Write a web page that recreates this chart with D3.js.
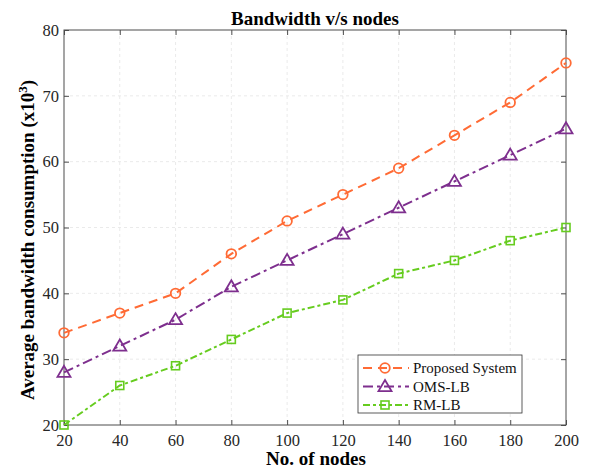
<!DOCTYPE html>
<html>
<head>
<meta charset="utf-8">
<script src="https://cdn.jsdelivr.net/npm/d3@7"></script>
<style>
  html, body { margin: 0; padding: 0; background: #fff; }
  svg { display: block; }
  text { font-family: "Liberation Serif", "Times New Roman", serif; }
</style>
</head>
<body>
<svg id="chart" width="589" height="470"></svg>
<script>
// Number of nodes on the x axis
const nodes = [20, 40, 60, 80, 100, 120, 140, 160, 180, 200];
// Average bandwidth consumption (x10^3) per approach
const proposedSystem = [34, 37, 40, 46, 51, 55, 59, 64, 69, 75];
const omsLb = [28, 32, 36, 41, 45, 49, 53, 57, 61, 65];
const rmLb = [20, 26, 29, 33, 37, 39, 43, 45, 48, 50];
const seriesNames = ["Proposed System", "OMS-LB", "RM-LB"];
const xTicks = [20, 40, 60, 80, 100, 120, 140, 160, 180, 200];
const yTicks = [20, 30, 40, 50, 60, 70, 80];

const series = [
  { name: seriesNames[0], values: proposedSystem, color: "#FF6B35", dash: "9,6", marker: "circle" },
  { name: seriesNames[1], values: omsLb, color: "#7E2F8E", dash: "10,4,3,4", marker: "triangle" },
  { name: seriesNames[2], values: rmLb, color: "#66CC1F", dash: "7,3,3,3", marker: "square" }
];

const svg = d3.select("#chart");
const m = { left: 64, right: 566, top: 30, bottom: 425 };

const x = d3.scaleLinear().domain([20, 200]).range([m.left, m.right]);
const y = d3.scaleLinear().domain([20, 80]).range([m.bottom, m.top]);

// grid
const grid = svg.append("g");
grid.selectAll("line.vx").data(xTicks.slice(1, -1)).join("line")
  .attr("x1", d => x(d)).attr("x2", d => x(d))
  .attr("y1", m.top).attr("y2", m.bottom)
  .attr("stroke", "#e4e4e4").attr("stroke-width", 0.8).attr("stroke-dasharray", "3,3");
grid.selectAll("line.hy").data(yTicks.slice(1, -1)).join("line")
  .attr("y1", d => y(d)).attr("y2", d => y(d))
  .attr("x1", m.left).attr("x2", m.right)
  .attr("stroke", "#e4e4e4").attr("stroke-width", 0.8).attr("stroke-dasharray", "3,3");

// axes with inward ticks
const axisColor = "#4d4d4d";
function styleAxis(g) {
  g.select(".domain").remove();
  g.selectAll(".tick line").attr("stroke", axisColor);
  g.selectAll(".tick text").attr("fill", "#262626")
    .style("font-family", "'Liberation Serif', serif").style("font-size", "16.5px");
}
svg.append("g").attr("transform", `translate(0,${m.bottom})`)
  .call(d3.axisBottom(x).tickValues(xTicks).tickSize(-5).tickPadding(9).tickFormat(d3.format("d")))
  .call(styleAxis);
svg.append("g").attr("transform", `translate(${m.left},0)`)
  .call(d3.axisLeft(y).tickValues(yTicks).tickSize(-5).tickPadding(5).tickFormat(d3.format("d")))
  .call(styleAxis);
svg.append("g").attr("transform", `translate(0,${m.top})`)
  .call(d3.axisTop(x).tickValues(xTicks).tickSize(-5).tickFormat(""))
  .call(styleAxis);
svg.append("g").attr("transform", `translate(${m.right},0)`)
  .call(d3.axisRight(y).tickValues(yTicks).tickSize(-5).tickFormat(""))
  .call(styleAxis);

svg.append("rect").attr("x", m.left).attr("y", m.top)
  .attr("width", m.right - m.left).attr("height", m.bottom - m.top)
  .attr("fill", "none").attr("stroke", axisColor).attr("stroke-width", 1);

// markers
function drawMarker(g, type, cx, cy, color) {
  if (type === "circle") {
    g.append("circle").attr("cx", cx).attr("cy", cy).attr("r", 4.8)
      .attr("fill", "none").attr("stroke", color).attr("stroke-width", 1.8);
  } else if (type === "triangle") {
    const s = 6.5;
    g.append("path").attr("d", `M${cx},${cy - s}L${cx + s},${cy + s * 0.7}L${cx - s},${cy + s * 0.7}Z`)
      .attr("fill", "none").attr("stroke", color).attr("stroke-width", 1.8);
  } else {
    g.append("rect").attr("x", cx - 4).attr("y", cy - 4).attr("width", 8).attr("height", 8)
      .attr("fill", "none").attr("stroke", color).attr("stroke-width", 1.6);
  }
}

const line = d3.line().x((d, i) => x(nodes[i])).y(d => y(d));
series.forEach(s => {
  const g = svg.append("g");
  g.append("path").datum(s.values).attr("d", line)
    .attr("fill", "none").attr("stroke", s.color).attr("stroke-width", 2)
    .attr("stroke-dasharray", s.dash);
  s.values.forEach((v, i) => drawMarker(g, s.marker, x(nodes[i]), y(v), s.color));
});

// title and axis labels
svg.append("text").attr("x", 315).attr("y", 25)
  .attr("text-anchor", "middle").attr("font-weight", "bold").attr("font-size", "19px")
  .attr("fill", "#000").text("Bandwidth v/s nodes");
svg.append("text").attr("x", 316).attr("y", 465)
  .attr("text-anchor", "middle").attr("font-weight", "bold").attr("font-size", "19px")
  .attr("fill", "#000").text("No. of nodes");
const yl = svg.append("text")
  .attr("transform", `translate(34,240) rotate(-90)`)
  .attr("text-anchor", "middle").attr("font-weight", "bold").attr("font-size", "19px")
  .attr("fill", "#000");
yl.append("tspan").text("Average bandwidth consumption (x10");
yl.append("tspan").attr("dy", -7).attr("font-size", "13px").text("3");
yl.append("tspan").attr("dy", 7).text(")");

// legend
const lg = svg.append("g").attr("transform", "translate(358,355)");
lg.append("rect").attr("width", 164).attr("height", 58)
  .attr("fill", "#fff").attr("stroke", "#333").attr("stroke-width", 0.8);
series.forEach((s, i) => {
  const ly = 13 + i * 18.5;
  lg.append("line").attr("x1", 5).attr("x2", 51).attr("y1", ly).attr("y2", ly)
    .attr("stroke", s.color).attr("stroke-width", 2).attr("stroke-dasharray", s.dash);
  drawMarker(lg, s.marker, 27, ly, s.color);
  lg.append("text").attr("x", 55).attr("y", ly + 5).attr("font-size", "15px")
    .attr("fill", "#111").text(s.name);
});
</script>
</body>
</html>
